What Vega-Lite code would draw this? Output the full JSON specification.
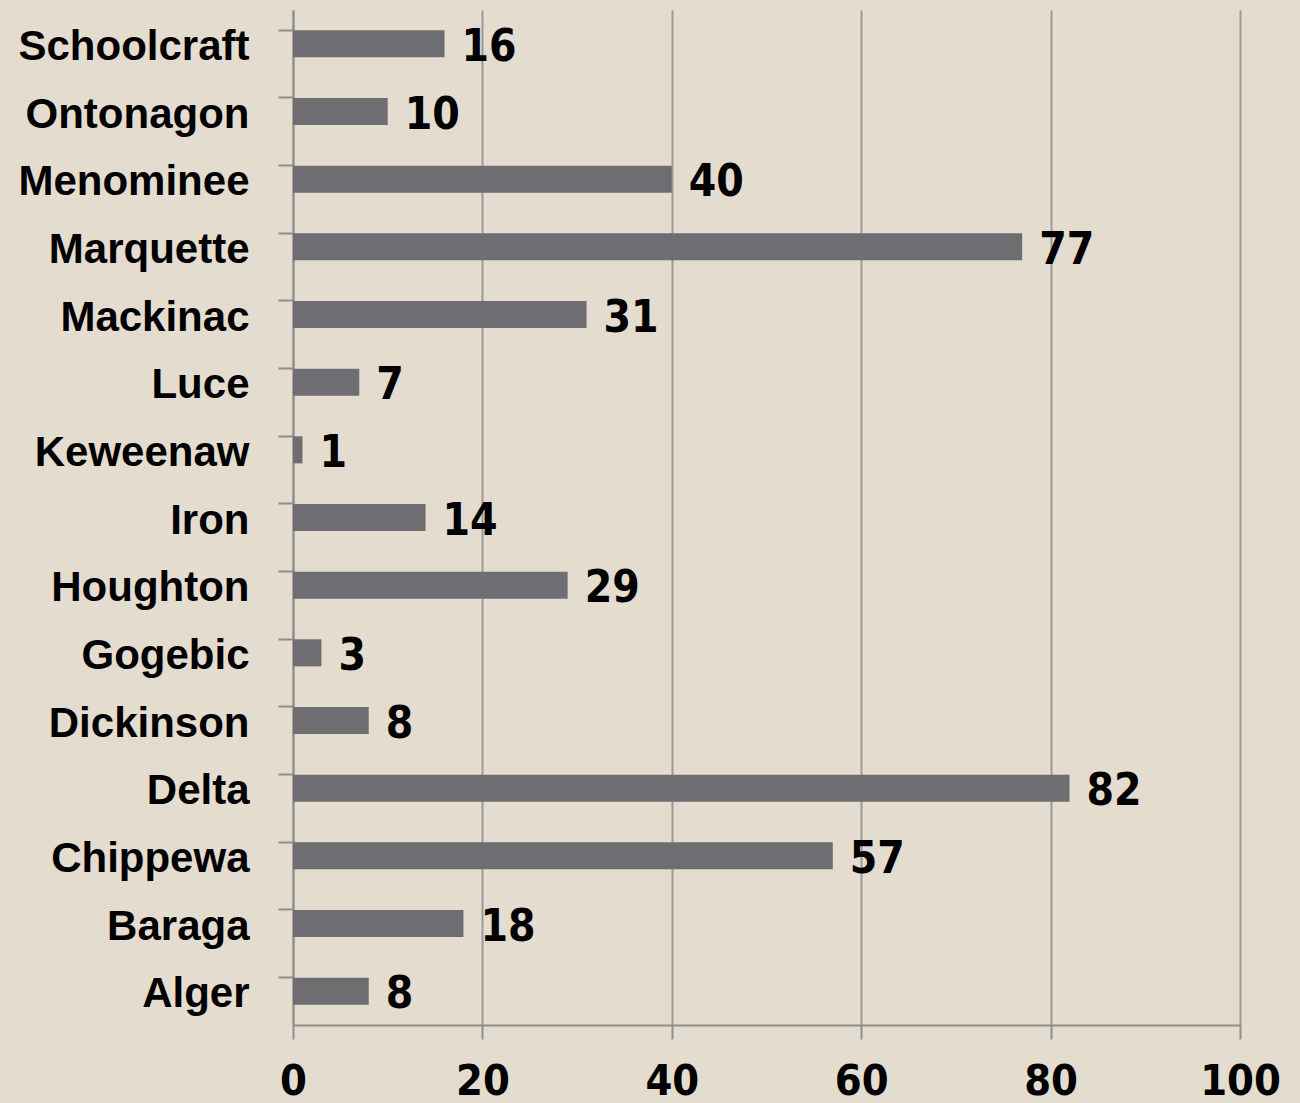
{
  "$schema": "https://vega.github.io/schema/vega-lite/v6.json",
  "autosize": "none",
  "width": 947,
  "height": 1015,
  "padding": {"left": 293, "top": 10, "right": 60, "bottom": 78},
  "background": "#E4DCCF",
  "config": {"view": {"stroke": null}},
  "data": {"values": [
    {"county": "Schoolcraft", "value": 16},
    {"county": "Ontonagon", "value": 10},
    {"county": "Menominee", "value": 40},
    {"county": "Marquette", "value": 77},
    {"county": "Mackinac", "value": 31},
    {"county": "Luce", "value": 7},
    {"county": "Keweenaw", "value": 1},
    {"county": "Iron", "value": 14},
    {"county": "Houghton", "value": 29},
    {"county": "Gogebic", "value": 3},
    {"county": "Dickinson", "value": 8},
    {"county": "Delta", "value": 82},
    {"county": "Chippewa", "value": 57},
    {"county": "Baraga", "value": 18},
    {"county": "Alger", "value": 8}
  ]},
  "encoding": {
    "y": {
      "field": "county", "type": "nominal", "sort": null,
      "scale": {"paddingInner": 0.6, "paddingOuter": 0.3},
      "axis": {
        "title": null, "bandPosition": 0, "tickSize": 15, "tickWidth": 2, "tickColor": "#8E8E8E",
        "domainColor": "#8E8E8E", "domainWidth": 2,
        "labelFont": "Liberation Sans", "labelFontWeight": "bold", "labelFontSize": 42,
        "labelColor": "#000000", "labelPadding": 29, "labelLimit": 0, "labelOffset": 3, "grid": false
      }
    },
    "x": {
      "field": "value", "type": "quantitative",
      "scale": {"domain": [0, 100], "nice": false},
      "axis": {
        "title": null, "values": [0, 20, 40, 60, 80, 100], "tickSize": 14, "tickWidth": 2, "tickColor": "#8E8E8E",
        "domainColor": "#8E8E8E", "domainWidth": 2,
        "grid": true, "gridColor": "#9A9A9A", "gridWidth": 2,
        "labelFont": "DejaVu Sans Condensed", "labelFontWeight": "bold", "labelFontSize": 43, "labelColor": "#000000",
        "labelPadding": 21, "labelFlush": false
      }
    }
  },
  "layer": [
    {"mark": {"type": "bar", "color": "#6E6D72"}},
    {"mark": {"type": "text", "align": "left", "baseline": "middle", "dx": 17, "dy": 4, "font": "DejaVu Sans Condensed", "fontWeight": "bold", "fontSize": 44, "color": "#000000"},
     "encoding": {"text": {"field": "value", "type": "quantitative"}}}
  ]
}
